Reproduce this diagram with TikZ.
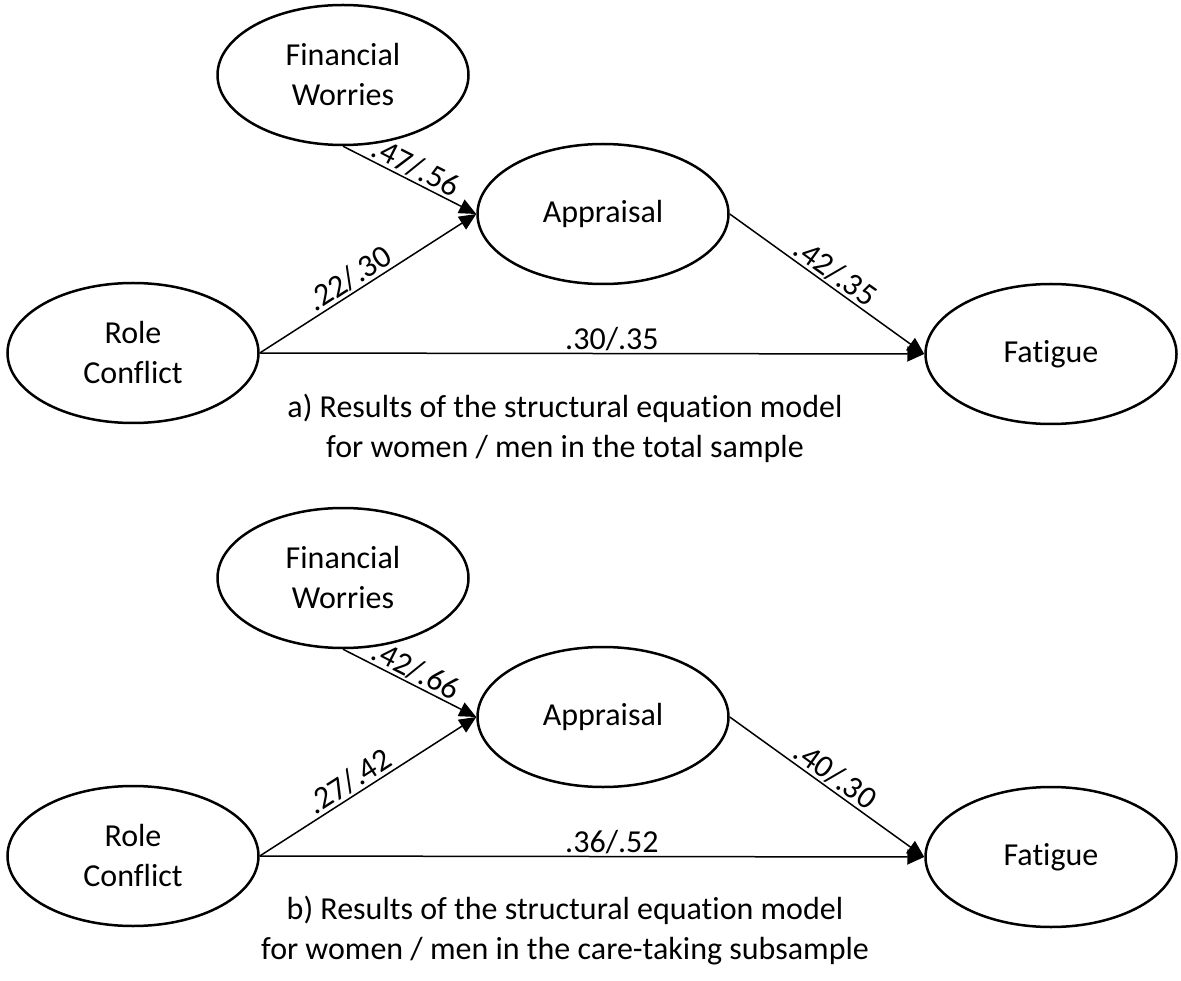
\documentclass[tikz,border=0pt]{standalone}
\usepackage{fontspec}
\setmainfont{Carlito}[Ligatures={NoCommon}]
\usetikzlibrary{arrows.meta,shapes.geometric}
\tikzset{
  latent/.style={ellipse,draw,line width=2.5pt,minimum width=251pt,minimum height=140pt,inner sep=0pt,align=center,font=\fontsize{32}{40}\selectfont},
  path/.style={line width=1.5pt,-{Triangle[length=17pt,width=15pt]}},
  coef/.style={font=\fontsize{32}{38}\selectfont,inner sep=2pt},
  caption/.style={align=center,font=\fontsize{32}{40}\selectfont}
}
\begin{document}
\begin{tikzpicture}[x=1pt,y=-1pt]
\useasboundingbox (0,0) rectangle (1181,981);
% panel a
\node[latent] (fwA) at (343,75) {Financial\\Worries};
\node[latent] (apA) at (603,214) {Appraisal};
\node[latent] (rcA) at (133,353) {Role\\Conflict};
\node[latent] (faA) at (1051,354) {Fatigue};
\draw[path] (fwA.south) -- node[coef,sloped,above] {.47/.56} (apA.west);
\draw[path] (rcA.east) -- node[coef,sloped,above,pos=0.45] {.22/.30} (apA.west);
\draw[path] (apA.east) -- node[coef,sloped,above] {.42/.35} (faA.west);
\draw[path] (rcA.east) -- node[coef,above,pos=0.53] {.30/.35} (faA.west);
\node[caption] (capA) at (565,428) {a) Results of the structural equation model\\for women / men in the total sample};
% panel b
\begin{scope}[shift={(0,503)}]
\node[latent] (fwB) at (343,75) {Financial\\Worries};
\node[latent] (apB) at (603,214) {Appraisal};
\node[latent] (rcB) at (133,353) {Role\\Conflict};
\node[latent] (faB) at (1051,354) {Fatigue};
\draw[path] (fwB.south) -- node[coef,sloped,above] {.42/.66} (apB.west);
\draw[path] (rcB.east) -- node[coef,sloped,above,pos=0.45] {.27/.42} (apB.west);
\draw[path] (apB.east) -- node[coef,sloped,above] {.40/.30} (faB.west);
\draw[path] (rcB.east) -- node[coef,above,pos=0.53] {.36/.52} (faB.west);
\node[caption] (capB) at (565,428) {b) Results of the structural equation model\\for women / men in the care-taking subsample};
\end{scope}
\end{tikzpicture}
\end{document}
